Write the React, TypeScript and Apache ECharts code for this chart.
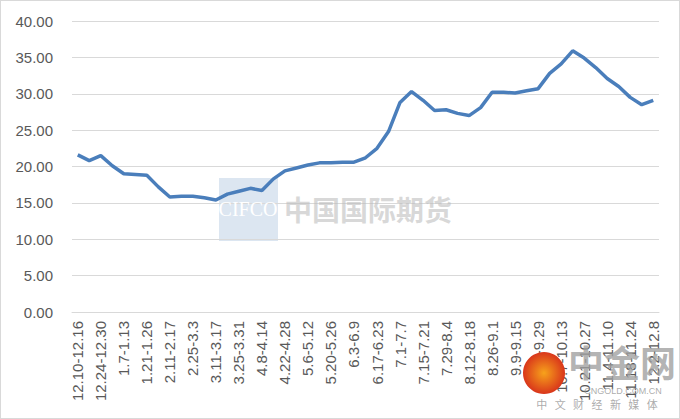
import React, { useEffect, useRef } from "react";
import * as echarts from "echarts";

const categories: string[] = [
  "12.10-12.16", "12.17-12.23", "12.24-12.30", "12.31-1.6", "1.7-1.13", "1.14-1.20",
  "1.21-1.26", "1.28-2.1", "2.11-2.17", "2.18-2.24", "2.25-3.3", "3.4-3.10",
  "3.11-3.17", "3.18-3.24", "3.25-3.31", "4.1-4.7", "4.8-4.14", "4.15-4.21",
  "4.22-4.28", "4.29-5.5", "5.6-5.12", "5.13-5.19", "5.20-5.26", "5.27-6.2",
  "6.3-6.9", "6.10-6.16", "6.17-6.23", "6.24-6.30", "7.1-7.7", "7.8-7.14",
  "7.15-7.21", "7.22-7.28", "7.29-8.4", "8.5-8.11", "8.12-8.18", "8.19-8.25",
  "8.26-9.1", "9.2-9.8", "9.9-9.15", "9.16-9.22", "9.23-9.29", "9.30-10.6",
  "10.7-10.13", "10.14-10.20", "10.21-10.27", "10.28-11.3", "11.4-11.10", "11.11-11.17",
  "11.18-11.24", "11.25-12.1", "12.2-12.8",
];

const values: number[] = [
  21.6, 20.8, 21.5, 20.1, 19.0, 18.9, 18.8, 17.2, 15.8, 15.9,
  15.9, 15.7, 15.4, 16.2, 16.6, 17.0, 16.7, 18.3, 19.4, 19.8,
  20.2, 20.5, 20.5, 20.6, 20.6, 21.2, 22.5, 24.8, 28.8, 30.3,
  29.1, 27.7, 27.8, 27.3, 27.0, 28.1, 30.2, 30.2, 30.1, 30.4,
  30.7, 32.8, 34.1, 35.9, 34.9, 33.6, 32.1, 31.0, 29.5, 28.5,
  29.1,
];

const yMin = 0;
const yMax = 40;
const yStep = 5;

export default function App() {
  const ref = useRef<HTMLDivElement>(null);

  useEffect(() => {
    if (!ref.current) return;
    const chart = echarts.init(ref.current, undefined, { renderer: "svg" });
    const font = "'Liberation Sans', Arial, sans-serif";
    const sp = "\u00a0\u00a0\u00a0";
    chart.setOption({
      animation: false,
      backgroundColor: "#ffffff",
      grid: { left: 71, right: 20, top: 20, bottom: 106 },
      xAxis: {
        type: "category",
        data: categories,
        boundaryGap: true,
        axisLine: { lineStyle: { color: "#d9d9d9", width: 1 } },
        axisTick: { show: false },
        axisLabel: {
          interval: 1,
          rotate: 90,
          color: "#595959",
          fontSize: 15,
          fontFamily: font,
          margin: 9,
        },
      },
      yAxis: {
        type: "value",
        min: yMin,
        max: yMax,
        interval: yStep,
        axisLine: { show: false },
        axisTick: { show: false },
        splitLine: { lineStyle: { color: "#d9d9d9", width: 1 } },
        axisLabel: {
          color: "#595959",
          fontSize: 15,
          fontFamily: font,
          margin: 19,
          formatter: (v: number) => v.toFixed(2),
        },
      },
      graphic: [
        {
          type: "rect",
          shape: { x: 218, y: 177, width: 59, height: 63 },
          style: { fill: "#dce6f1" },
          z: -1,
        },
        {
          type: "text",
          x: 247,
          y: 208,
          style: {
            text: "CIFCO",
            fill: "#ffffff",
            font: "20px 'Liberation Serif', serif",
            textAlign: "center",
            textVerticalAlign: "middle",
          },
          z: 10,
        },
        {
          type: "text",
          x: 283,
          y: 208,
          style: {
            text: "中国国际期货",
            fill: "rgba(190,190,190,0.6)",
            font: "bold 28px 'Noto Sans CJK SC', sans-serif",
            textAlign: "left",
            textVerticalAlign: "middle",
          },
          z: 10,
        },
        {
          type: "circle",
          shape: { cx: 543, cy: 372, r: 21 },
          style: {
            fill: new echarts.graphic.RadialGradient(0.5, 0.5, 0.5, [
              { offset: 0, color: "#f7a21b" },
              { offset: 1, color: "#d9361b" },
            ]),
          },
          z: 10,
        },
        {
          type: "text",
          x: 621,
          y: 360,
          style: {
            text: "中金网",
            fill: "rgba(160,160,160,0.8)",
            font: "bold 36px 'Noto Sans CJK SC', sans-serif",
            textAlign: "center",
            textVerticalAlign: "middle",
          },
          z: 10,
        },
        {
          type: "text",
          x: 622,
          y: 390,
          style: {
            text: "CNGOLD.COM.CN",
            fill: "rgba(150,150,150,0.8)",
            font: "9px 'Liberation Sans', sans-serif",
            textAlign: "center",
            textVerticalAlign: "middle",
          },
          z: 10,
        },
        {
          type: "text",
          x: 596,
          y: 403,
          style: {
            text: ["中", "文", "财", "经", "新", "媒", "体"].join(sp),
            fill: "rgba(150,150,150,0.8)",
            font: "11px 'Noto Sans CJK SC', sans-serif",
            textAlign: "center",
            textVerticalAlign: "middle",
          },
          z: 10,
        },
      ],
      series: [
        {
          type: "line",
          data: values,
          symbol: "none",
          smooth: false,
          lineStyle: { color: "#4a7ebb", width: 3.5 },
          z: 5,
        },
      ],
    });
    return () => chart.dispose();
  }, []);

  return (
    <div
      style={{
        position: "fixed",
        left: 0,
        top: 0,
        width: 680,
        height: 419,
        boxSizing: "border-box",
        border: "1px solid #d9d9d9",
        background: "#fff",
      }}
    >
      <div ref={ref} style={{ width: 678, height: 417 }} />
    </div>
  );
}
